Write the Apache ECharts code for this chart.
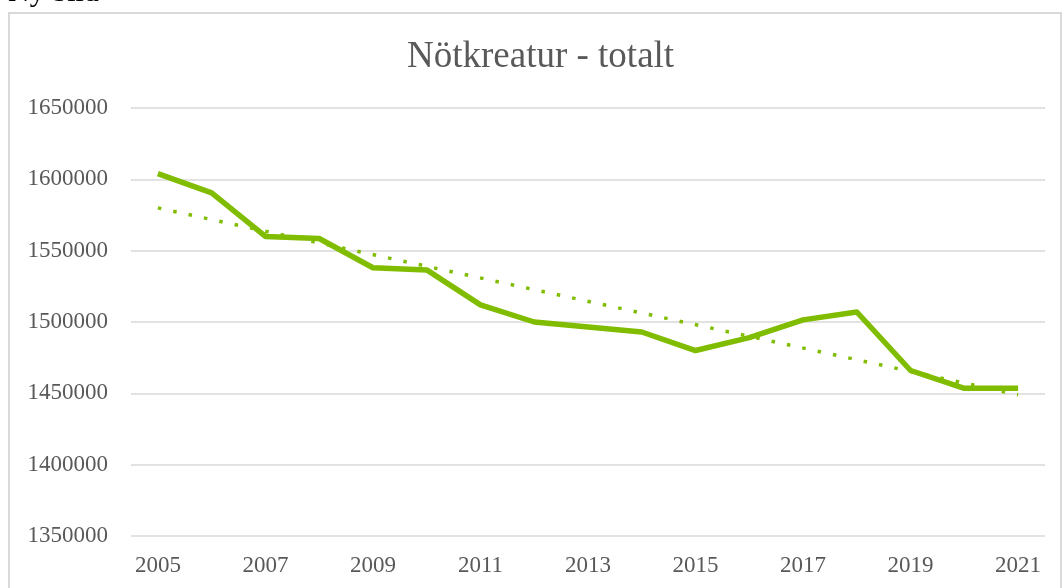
<!DOCTYPE html>
<html>
<head>
<meta charset="utf-8">
<script src="https://cdn.jsdelivr.net/npm/echarts@6/dist/echarts.min.js"></script>
<style>
  html, body { margin: 0; padding: 0; background: #fff; }
  #chart { width: 1062px; height: 588px; }
</style>
</head>
<body>
<div id="chart"></div>
<script>
// years on the x axis
const years = ["2005", "2006", "2007", "2008", "2009", "2010", "2011", "2012", "2013",
  "2014", "2015", "2016", "2017", "2018", "2019", "2020", "2021"];
// Nötkreatur totalt
const cattle = [1604000, 1590500, 1560000, 1558500, 1538000, 1536500, 1512000, 1500000, 1496500,
  1493000, 1480000, 1489000, 1501500, 1507000, 1466000, 1453500, 1453500];
// dotted trend line, first and last point only
const trendStart = 1580000;
const trendEnd = 1449000;
const yTicks = [1350000, 1400000, 1450000, 1500000, 1550000, 1600000, 1650000];

const green = "#80bc00";
const txt = "#595959";
const serif = "'Liberation Serif', 'DejaVu Serif', serif";

const trend = years.map((y, i) => {
  if (i === 0) return trendStart;
  if (i === years.length - 1) return trendEnd;
  return null;
});

const chart = echarts.init(document.getElementById("chart"));
chart.setOption({
  animation: false,
  title: {
    text: "Nötkreatur - totalt",
    left: 407,
    top: 39,
    padding: 0,
    textStyle: { fontFamily: serif, fontSize: 37, fontWeight: "normal", color: txt }
  },
  graphic: [
    {
      type: "rect",
      shape: { x: 9, y: 13, width: 1052, height: 600 },
      style: { fill: "none", stroke: "#d9d9d9", lineWidth: 2 }
    },
    {
      type: "text",
      x: 8,
      y: 8,
      style: { text: "Ny bild", font: "30px " + serif, fill: "#000", verticalAlign: "bottom" }
    }
  ],
  grid: { left: 131, right: 17, top: 108, bottom: 52, containLabel: false },
  xAxis: {
    type: "category",
    data: years,
    boundaryGap: true,
    axisLine: { show: false },
    axisTick: { show: false },
    axisLabel: {
      interval: 1,
      margin: 18,
      fontFamily: serif,
      fontSize: 23,
      color: txt
    }
  },
  yAxis: {
    type: "value",
    min: yTicks[0],
    max: yTicks[yTicks.length - 1],
    interval: 50000,
    axisLine: { show: false },
    axisTick: { show: false },
    axisLabel: {
      margin: 23,
      fontFamily: serif,
      fontSize: 23,
      color: txt,
      formatter: (v) => String(v)
    },
    splitLine: { lineStyle: { color: "#d9d9d9", width: 1.5 } }
  },
  series: [
    {
      name: "Nötkreatur",
      type: "line",
      data: cattle,
      symbol: "none",
      lineStyle: { color: green, width: 5.5, join: "round" },
      z: 3
    },
    {
      name: "Trend",
      type: "line",
      data: trend,
      connectNulls: true,
      symbol: "none",
      lineStyle: { color: green, width: 3.5, type: [3.5, 12.2], cap: "butt" },
      z: 2
    }
  ]
});
</script>
</body>
</html>
